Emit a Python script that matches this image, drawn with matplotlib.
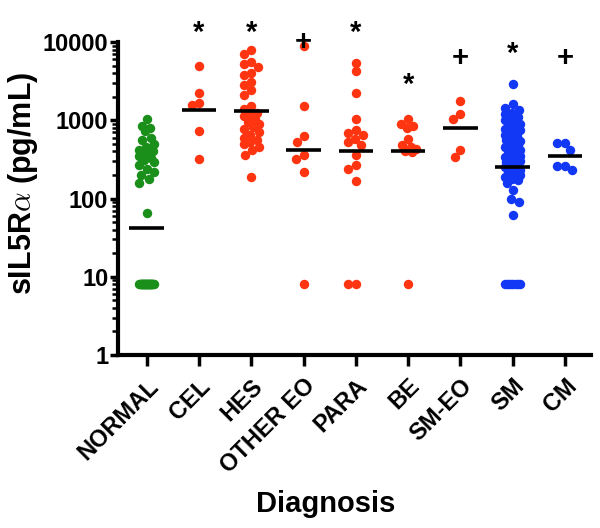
import numpy as np
import matplotlib.pyplot as plt

plt.rcParams['font.family'] = ['Liberation Sans', 'DejaVu Sans']
plt.rcParams['font.weight'] = 'bold'
plt.rcParams['mathtext.fontset'] = 'cm'

groups = ['NORMAL', 'CEL', 'HES', 'OTHER EO', 'PARA', 'BE', 'SM-EO', 'SM', 'CM']

normal = [1050, 850, 800, 720, 600, 560, 500, 450, 420, 400, 370, 350, 330,
          310, 290, 270, 240, 220, 200, 180, 160, 65] + [8] * 28
cel = [5000, 2200, 1650, 1550, 720, 320]
hes = [7900, 7100, 5600, 5300, 4800, 4000, 3800, 3100, 2800, 2400, 2100, 1500,
       1400, 1250, 1200, 1150, 1050, 950, 900, 820, 780, 710, 650, 600, 560,
       520, 500, 460, 420, 360, 190]
other_eo = [9000, 1500, 620, 520, 360, 320, 220, 8]
para = [5400, 4200, 2200, 1050, 750, 680, 640, 580, 520, 480, 360, 270, 240,
        165, 8, 8]
be = [1050, 900, 850, 800, 580, 480, 450, 430, 400, 390, 8]
sm_eo = [1750, 1200, 1050, 420, 340]
sm = [2900, 1600, 1450, 1350, 1250, 1200, 1100, 1050, 1000, 950, 900, 850, 820,
      780, 750, 700, 650, 620, 600, 560, 540, 520, 500, 480, 460, 440, 420, 400,
      390, 370, 350, 340, 330, 320, 300, 290, 280, 270, 260, 250, 240, 230, 220,
      210, 200, 190, 180, 170, 160, 128, 100, 91, 61] + [8] * 8
cm = [510, 510, 415, 262, 262, 228]

data = [normal, cel, hes, other_eo, para, be, sm_eo, sm, cm]
colors = ['#1a8f1a', '#ff3512', '#ff3512', '#ff3512', '#ff3512', '#ff3512',
          '#ff3512', '#1338f5', '#1338f5']

# significance marks above each group
sig = ['', '*', '*', '+', '*', '*', '+', '*', '+']
sig_y = [None, 13000, 13000, 10000, 13000, 2800, 6200, 7000, 6200]

fig = plt.figure(figsize=(6, 5.28), dpi=100)
ax = fig.add_axes([118 / 600, 1 - 355 / 528, (591 - 118) / 600, (355 - 42) / 528])
ax.set_yscale('log')
ax.set_ylim(1, 10000)
ax.set_xlim(-0.55, 8.5)


def swarm(xc, vals, diam=8.5, maxoff=7.5):
    # simple beeswarm in pixel space, points overlap once the column is full
    pix = ax.transData.transform(np.column_stack([np.full(len(vals), xc), vals]))
    x0 = pix[0, 0]
    cands = np.arange(-maxoff, maxoff + 0.01, 0.5)
    cands = cands[np.argsort(np.abs(cands), kind='stable')]
    placed = []
    xs = np.zeros(len(vals))
    for i in np.argsort(-np.asarray(vals), kind='stable'):
        y = pix[i, 1]
        best, bestd = 0.0, -1.0
        for c in cands:
            d = min((np.hypot(c - px, y - py) for px, py in placed), default=1e9)
            if d >= diam:
                best = c
                break
            if d > bestd:
                best, bestd = c, d
        placed.append((best, y))
        xs[i] = ax.transData.inverted().transform((x0 + best, y))[0]
    return xs


for i, vals in enumerate(data):
    xs = swarm(i, vals)
    ax.plot(xs, vals, 'o', color=colors[i], ms=6.8, mew=0, clip_on=False)
    gmean = 10 ** np.mean(np.log10(vals))
    ax.plot([i - 0.33, i + 0.33], [gmean, gmean], color='black', lw=2.6,
            solid_capstyle='butt')
    if sig[i]:
        ax.text(i, sig_y[i], sig[i], ha='center', va='center', fontsize=21,
                fontweight='bold', clip_on=False)

ax.spines['top'].set_visible(False)
ax.spines['right'].set_visible(False)
ax.spines['left'].set_linewidth(3)
ax.spines['bottom'].set_linewidth(3)

ax.set_yticks([1, 10, 100, 1000, 10000])
ax.set_yticklabels(['1', '10', '100', '1000', '10000'])
ax.tick_params(axis='y', which='major', length=6, width=2.5, labelsize=17, pad=1)
ax.tick_params(axis='y', which='minor', length=4, width=1.8)
ax.set_xticks(range(len(groups)))
ax.set_xticklabels(groups, rotation=45, ha='right', va='top',
                   rotation_mode='anchor', fontsize=17)
ax.tick_params(axis='x', length=8, width=2.5, pad=6)
for lab in ax.get_xticklabels() + ax.get_yticklabels():
    lab.set_fontweight('bold')

ax.set_ylabel(r'sIL5R$\alpha$ (pg/mL)', fontsize=22, fontweight='bold')
ax.yaxis.set_label_coords(-0.165, 0.55)
ax.set_xlabel('Diagnosis', fontsize=21, fontweight='bold')
ax.xaxis.set_label_coords(0.44, -0.43)

plt.savefig('out.png', dpi=100)
